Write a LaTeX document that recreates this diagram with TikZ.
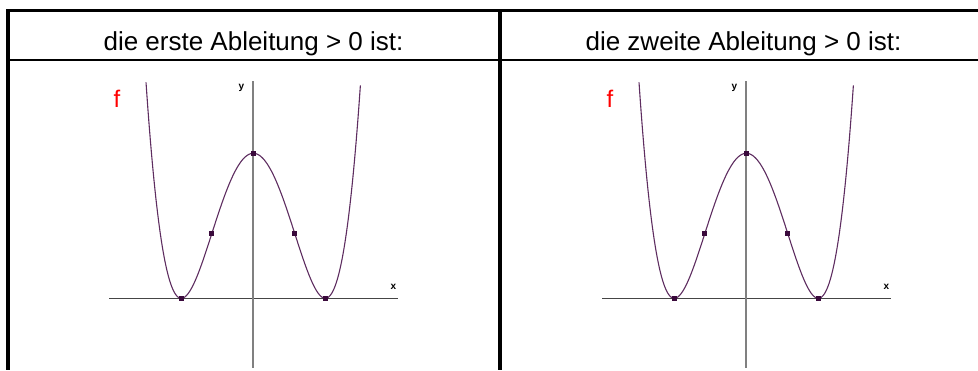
\documentclass[tikz,border=0pt]{standalone}
\usepackage{fontspec}
\setmainfont{Liberation Sans}
\definecolor{curvepurple}{HTML}{5E2D60}
\definecolor{ptpurple}{HTML}{3A0A3C}
\definecolor{yaxisgray}{HTML}{808080}
\definecolor{xaxisgray}{HTML}{454545}
\tikzset{
  rule/.style={draw=black, line width=#1},
  header/.style={font=\fontsize{26}{30}\selectfont, inner sep=0pt, anchor=base},
  curve/.style={draw=curvepurple, line width=1.1pt},
  pt/.style={fill=ptpurple, minimum size=5pt, inner sep=0pt, draw=none, rectangle},
  flabel/.style={text=red, font=\fontsize{24}{26}\selectfont, inner sep=0pt, anchor=base},
  axlabel/.style={font=\bfseries\fontsize{10}{11}\selectfont, inner sep=0pt}
}
\begin{document}
\begin{tikzpicture}[x=1pt,y=-1pt]
\useasboundingbox (0,0) rectangle (978,370);
% table rules
\draw[rule=3pt] (6,10.5) -- (978,10.5);
\draw[rule=2pt] (6,59.5) -- (978,59.5);
\draw[rule=3.5pt] (7.75,9) -- (7.75,370);
\draw[rule=4pt] (499.7,9) -- (499.7,370);
% headers
\node[header] (h1) at (253.5,50) {die erste Ableitung > 0 ist:};
\node[header] (h2) at (743.5,50) {die zweite Ableitung > 0 ist:};
% panels
\foreach \dx/\nm in {0/a, 493/b}{
\begin{scope}[xshift=\dx pt]
  \draw[draw=xaxisgray, line width=1.3pt] (109,298.3) -- (397.5,298.3);
  \draw[draw=yaxisgray, line width=1.8pt] (253.3,81) -- (253.3,368);
  \draw[curve] plot[domain=-1.49:1.49, samples=241, smooth] ({253.3+72*\x}, {298.3-145*(1-\x*\x)*(1-\x*\x)});
  \node[pt] (\nm max) at (253.3,153.3) {};
  \node[pt] (\nm minl) at (181.3,298.3) {};
  \node[pt] (\nm minr) at (325.3,298.3) {};
  \node[pt] (\nm wl) at (211.7,233.9) {};
  \node[pt] (\nm wr) at (294.9,233.9) {};
  \node[flabel] (\nm f) at (117,107) {f};
  \node[axlabel] (\nm y) at (241.5,87.5) {y};
  \node[axlabel] (\nm x) at (393.5,286.5) {x};
\end{scope}}
\end{tikzpicture}
\end{document}
